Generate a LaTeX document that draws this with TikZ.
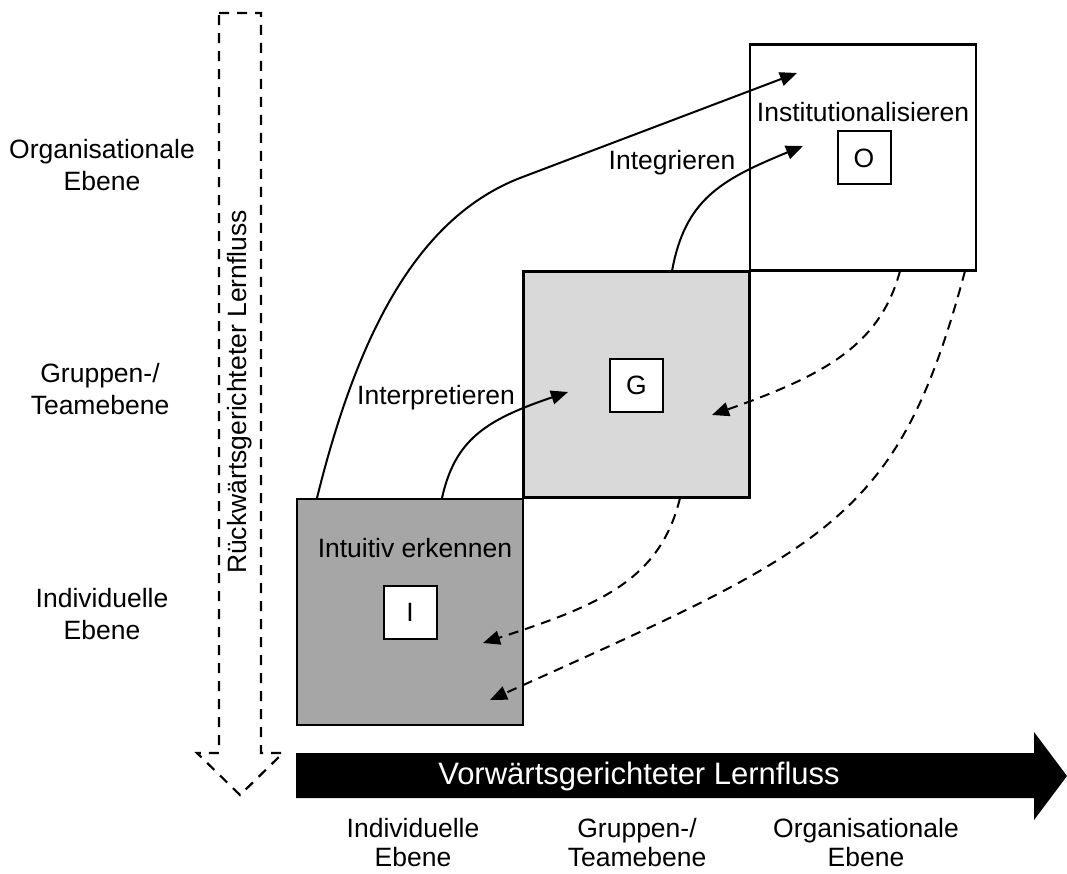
\documentclass[tikz,border=0pt]{standalone}
\usepackage{fontspec}
\setmainfont{Liberation Sans}
\usetikzlibrary{arrows.meta}
\definecolor{boxdark}{HTML}{A6A6A6}
\definecolor{boxlight}{HTML}{D9D9D9}
\begin{document}
\begin{tikzpicture}[x=1pt,y=-1pt,
  bigbox/.style={draw=black, line width=2.2pt, minimum width=226pt, minimum height=226pt, inner sep=0pt, outer sep=0pt},
  smallbox/.style={draw=black, fill=white, line width=2pt, minimum width=53pt, minimum height=53pt, inner sep=0pt, font=\fontsize{26.5}{32}\selectfont},
  lbl/.style={font=\fontsize{26.5}{32.5}\selectfont, align=center, inner sep=0pt},
  lblb/.style={font=\fontsize{26.5}{29}\selectfont, align=center, inner sep=0pt},
  flow/.style={line width=2pt, -{Triangle[length=17pt,width=14pt]}},
  back/.style={line width=2pt, dash pattern=on 10pt off 7pt, -{Triangle[length=17pt,width=14pt]}},
]
\useasboundingbox (0,0) rectangle (1067,874);

% backward flow arrow (dashed outline)
\draw[line width=2.2pt, dash pattern=on 10pt off 8pt]
  (219,13) -- (261,13) -- (261,753) -- (283,753) -- (240,795) -- (197,753) -- (219,753) -- cycle;
\node[lbl, rotate=90] (backtext) at (240,392) {Rückwärtsgerichteter Lernfluss};

% forward flow arrow (black)
\fill[black] (296,753) -- (1034,753) -- (1034,732) -- (1067,776) -- (1034,820) -- (1034,798) -- (296,798) -- cycle;
\node[inner sep=0pt, text=white, font=\fontsize{31}{36}\selectfont] (fwdtext) at (639,776) {Vorwärtsgerichteter Lernfluss};

% big boxes
\node[bigbox, fill=boxdark] (I) at (410,612) {};
\node[bigbox, fill=boxlight] (G) at (636.5,384.5) {};
\node[bigbox, fill=white] (O) at (863,157.5) {};

% small boxes
\node[smallbox] (Is) at (410,612) {I};
\node[smallbox] (Gs) at (636.5,385) {G};
\node[smallbox] (Os) at (864,158) {O};

% box labels
\node[lbl] (Ilbl) at (415,548) {Intuitiv erkennen};
\node[lbl] (Olbl) at (863,112) {Institutionalisieren};
\node[lbl] (interp) at (436,398) {Interpretieren};
\node[lbl] (integ) at (672,163) {Integrieren};

% left level labels
\node[lbl] (lo) at (102,165) {Organisationale\\Ebene};
\node[lbl] (lg) at (100,389) {Gruppen-/\\Teamebene};
\node[lbl] (li) at (102,614) {Individuelle\\Ebene};

% bottom level labels
\node[lblb] (bi) at (413,843) {Individuelle\\Ebene};
\node[lblb] (bg) at (637,843) {Gruppen-/\\Teamebene};
\node[lblb] (bo) at (866,843) {Organisationale\\Ebene};

% connector end points
\coordinate (s1) at (317,498);
\coordinate (e1) at (797,73);
\coordinate (s2) at (442,498);
\coordinate (e2) at (568,392);
\coordinate (s3) at (672,271);
\coordinate (e3) at (803,146);
\coordinate (s4) at (900,271);
\coordinate (e4) at (712,415);
\coordinate (s5) at (965,271);
\coordinate (e5) at (490,700);
\coordinate (s6) at (680,498);
\coordinate (e6) at (483,643);

% forward connectors
\draw[flow] (s1) .. controls (359,328) and (420,217) .. (520,178) -- (e1);
\draw[flow] (s2) .. controls (455,440) and (485,420) .. (e2);
\draw[flow] (s3) .. controls (685,200) and (720,180) .. (e3);

% backward connectors
\draw[back] (s4) .. controls (880,345) and (825,375) .. (e4);
\draw[back] (s5) .. controls (898,521) and (830,547) .. (e5);
\draw[back] (s6) .. controls (660,580) and (600,605) .. (e6);
\end{tikzpicture}
\end{document}
